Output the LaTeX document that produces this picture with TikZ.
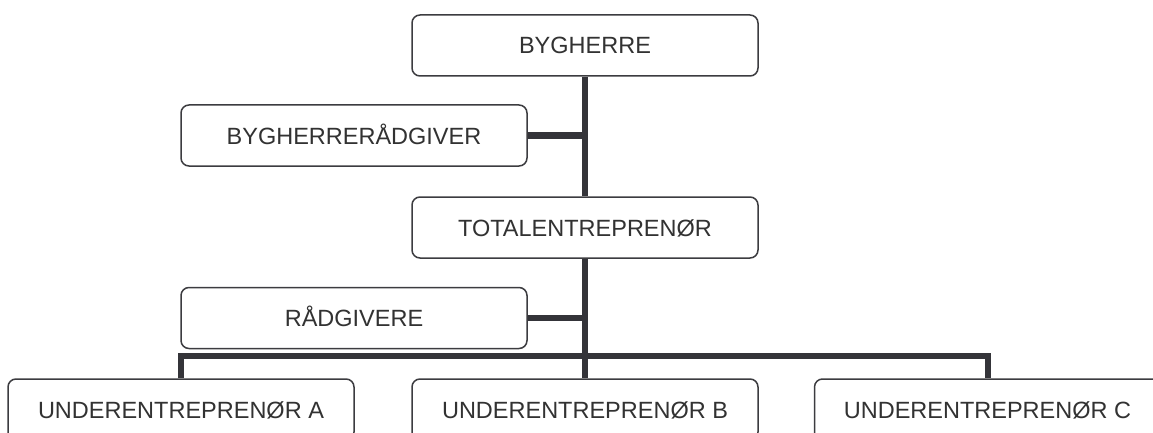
\documentclass[tikz,border=0pt]{standalone}
\usepackage{fontspec}
\setmainfont{Liberation Sans}
\definecolor{boxline}{RGB}{60,60,64}
\definecolor{linkline}{RGB}{52,52,57}
\definecolor{labeltext}{RGB}{50,50,50}
\begin{document}
\begin{tikzpicture}[x=1pt,y=-1pt,
  orgbox/.style={draw=boxline, line width=1.5pt, rounded corners=8pt, fill=white,
    minimum width=346pt, minimum height=61pt, inner sep=0pt,
    text=labeltext, font=\fontsize{23.5pt}{26pt}\selectfont,
    text height=17pt, text depth=0pt},
  link/.style={draw=linkline, line width=6pt}]
\useasboundingbox (0,0) rectangle (1153,433);
\fill[white] (0,0) rectangle (1153,433);

% organisation boxes
\node[orgbox] (by)  at (585,45.5)  {BYGHERRE};
\node[orgbox] (brg) at (354,135.5) {BYGHERRERÅDGIVER};
\node[orgbox] (tot) at (585,227.5) {TOTALENTREPRENØR};
\node[orgbox] (rg)  at (354,318)   {RÅDGIVERE};
\node[orgbox] (ua)  at (181,409.5) {UNDERENTREPRENØR A};
\node[orgbox] (ub)  at (585,409.5) {UNDERENTREPRENØR B};
\node[orgbox] (uc)  at (987.5,409.5) {UNDERENTREPRENØR C};

% branching point of the subcontractor bus
\coordinate (bus) at (585,356);

% connectors
\draw[link] (by.south) -- (tot.north);
\draw[link] (brg.east) -- (brg.east -| by.south);
\draw[link] (tot.south) -- (ub.north);
\draw[link] (rg.east) -- (rg.east -| tot.south);
\draw[link] (ua.north) |- (bus) -| (uc.north);
\end{tikzpicture}
\end{document}
